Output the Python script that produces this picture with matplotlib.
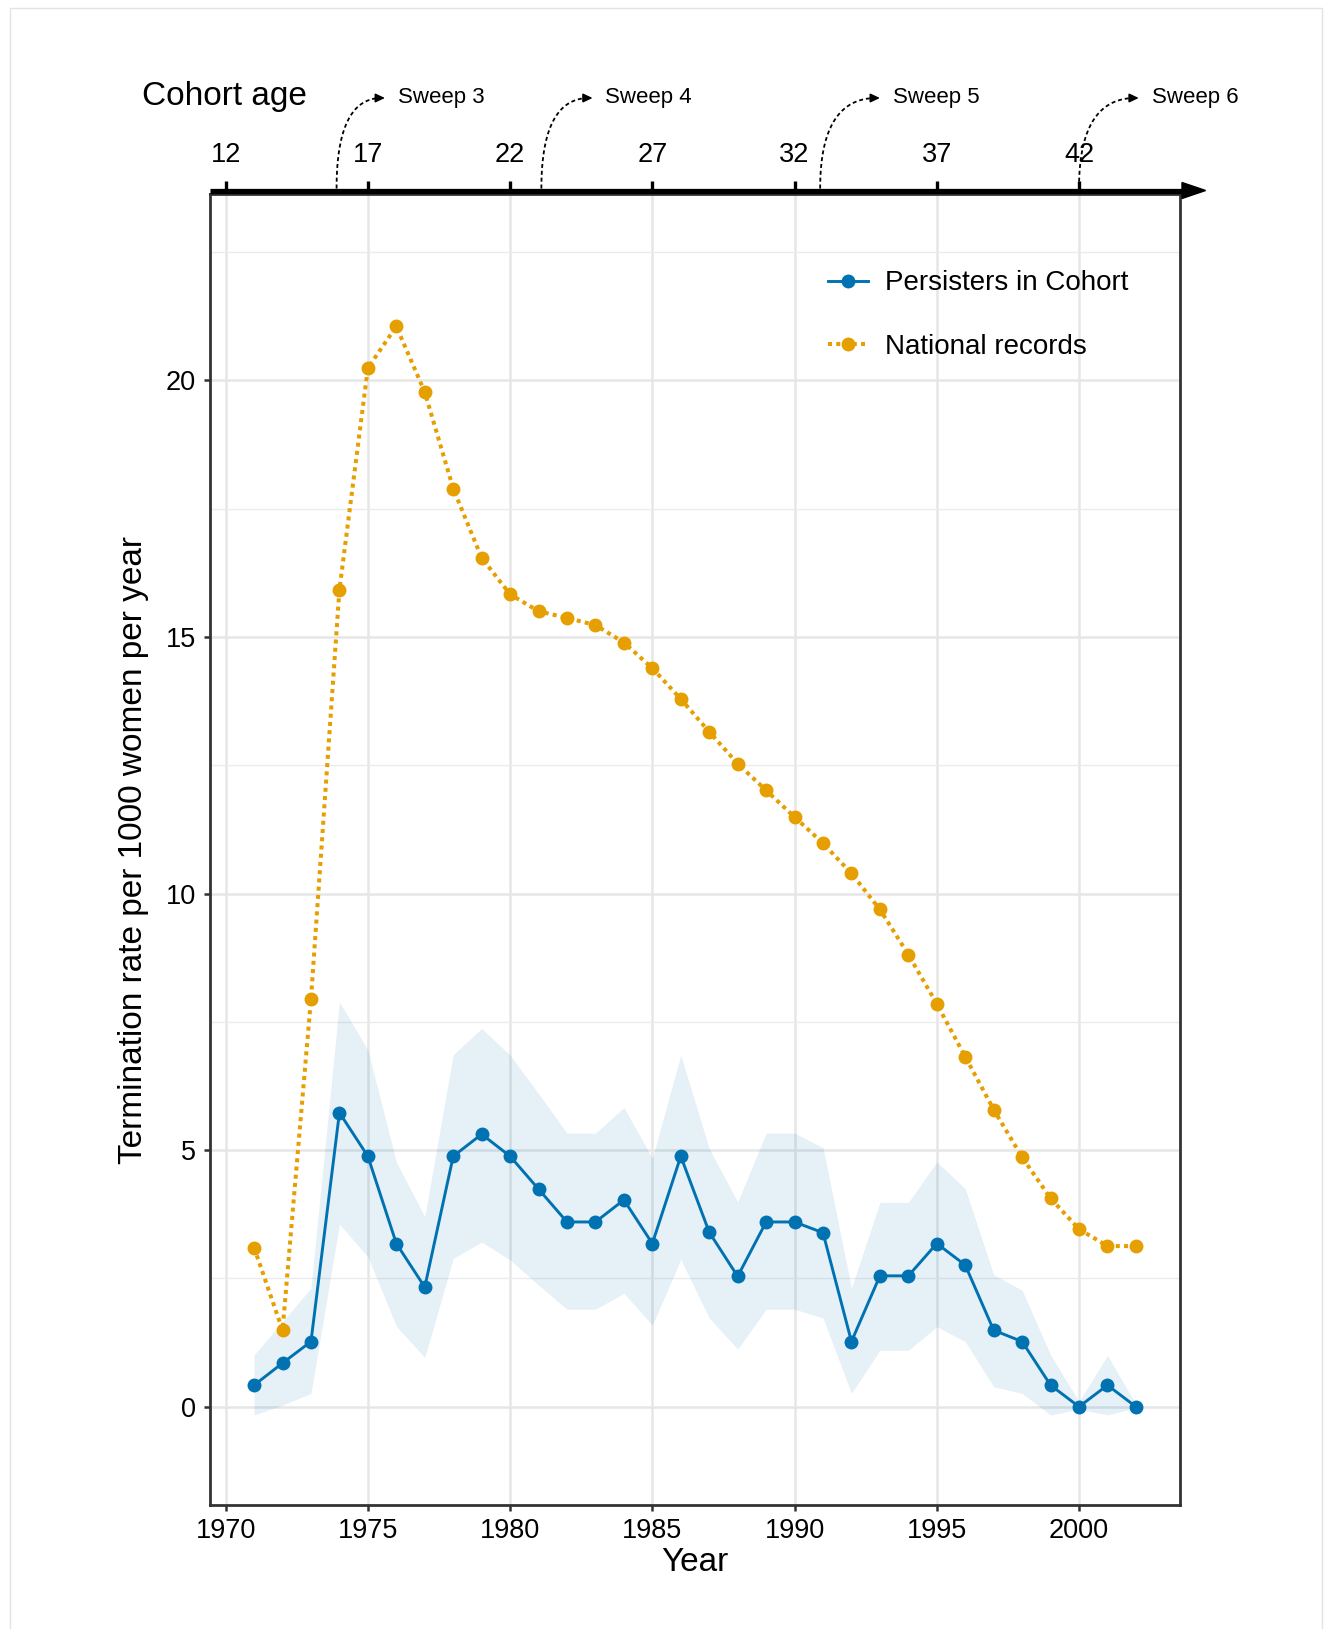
import numpy as np
import matplotlib.pyplot as plt
from matplotlib.patches import Polygon, Rectangle

plt.rcParams['font.family'] = ['Liberation Sans', 'DejaVu Sans']

# ---- data ----
years = list(range(1971, 2003))
persisters = [0.42, 0.85, 1.27, 5.73, 4.88, 3.18, 2.33, 4.88, 5.31, 4.88,
              4.24, 3.60, 3.60, 4.03, 3.18, 4.88, 3.40, 2.54, 3.60, 3.60,
              3.39, 1.27, 2.55, 2.55, 3.18, 2.76, 1.49, 1.27, 0.42, 0.00,
              0.42, 0.00]
persist_hi = [1.01, 1.66, 2.31, 7.89, 6.95, 4.77, 3.70, 6.86, 7.37, 6.85,
              6.10, 5.33, 5.33, 5.83, 4.84, 6.85, 5.03, 3.99, 5.33, 5.33,
              5.05, 2.31, 3.98, 3.98, 4.77, 4.25, 2.57, 2.27, 1.01, 0.10,
              1.00, 0.05]
persist_lo = [-0.16, 0.03, 0.26, 3.56, 2.92, 1.57, 0.96, 2.89, 3.21, 2.86,
              2.37, 1.90, 1.90, 2.21, 1.59, 2.87, 1.73, 1.12, 1.90, 1.90,
              1.73, 0.26, 1.10, 1.10, 1.56, 1.27, 0.39, 0.26, -0.16, -0.05,
              -0.16, -0.02]
national = [3.10, 1.49, 7.95, 15.92, 20.24, 21.05, 19.77, 17.89, 16.54, 15.83,
            15.50, 15.37, 15.23, 14.89, 14.39, 13.79, 13.15, 12.53, 12.01, 11.49,
            10.98, 10.39, 9.69, 8.81, 7.85, 6.82, 5.79, 4.86, 4.06, 3.46,
            3.13, 3.13]

birth_year = 1958
cohort_ages = [12, 17, 22, 27, 32, 37, 42]
sweep_labels = ["Sweep 3", "Sweep 4", "Sweep 5", "Sweep 6"]
sweep_start = [1973.9, 1981.1, 1990.9, 2000.0]
sweep_end = [1975.6, 1982.9, 1993.0, 2002.1]

BLUE = "#0072B2"
ORANGE = "#E69F00"
W, H = 1330, 1629

fig = plt.figure(figsize=(W / 100, H / 100), dpi=100)
fig.patch.set_facecolor("white")
# light frame round the whole picture
fig.patches.append(Rectangle((10 / W, -0.01), 1312 / W, 1 - 8 / H + 0.01,
                             transform=fig.transFigure, fill=False,
                             edgecolor="#e3e3e3", lw=1.0))

ax_l, ax_r, ax_t, ax_b = 210, 1180, 194, 1505
ax = fig.add_axes([ax_l / W, 1 - ax_b / H, (ax_r - ax_l) / W, (ax_b - ax_t) / H])

ax.fill_between(years, persist_lo, persist_hi, color=BLUE, alpha=0.1, lw=0,
                zorder=2)
ax.plot(years, national, color=ORANGE, lw=2.9, ls=(0, (1, 1.05)),
        dash_capstyle="butt", marker="o", ms=9, zorder=3,
        label="National records")
ax.plot(years, persisters, color=BLUE, lw=2.1, marker="o", ms=9, zorder=4,
        label="Persisters in Cohort")

ax.set_xlim(1969.45, 2003.55)
ax.set_ylim(-1.915, 23.63)
ax.set_xticks(range(1970, 2001, 5))
ax.set_yticks([0, 5, 10, 15, 20])
ax.set_yticks(np.arange(2.5, 23, 5), minor=True)
ax.grid(True, which="major", color="#e6e6e6", lw=1.8, zorder=0)
ax.grid(True, which="minor", axis="y", color="#ebebeb", lw=1.0, zorder=0)
ax.set_axisbelow(True)
ax.tick_params(which="major", length=4.3, width=1.8, color="#333333",
               labelsize=19.5, pad=5)
ax.tick_params(axis="y", pad=6)
ax.tick_params(which="minor", length=0)
for sp in ax.spines.values():
    sp.set_color("#333333")
    sp.set_linewidth(2.0)

ax.set_xlabel("Year", fontsize=24)
ax.xaxis.set_label_coords(0.5, (ax_b - 1547) / (ax_b - ax_t))
ax.set_ylabel("Termination rate per 1000 women per year", fontsize=24,
              va="center")
ax.yaxis.set_label_coords((134 - ax_l) / (ax_r - ax_l), 0.5)

handles, labels = ax.get_legend_handles_labels()
ax.legend(handles[::-1], labels[::-1], loc="center left",
          bbox_to_anchor=(0.637, 0.9075), frameon=False, fontsize=20,
          handlelength=1.45, handletextpad=0.6, labelspacing=1.36,
          borderpad=0, borderaxespad=0)

# ---- cohort-age axis drawn above the panel (y in pixels from the top) ----
top = fig.add_axes([ax_l / W, 1 - ax_t / H, (ax_r - ax_l) / W, ax_t / H])
top.set_xlim(ax.get_xlim())
top.set_ylim(ax_t, 0)
top.axis("off")

line_y = 190.5
top.plot([1969.45, 2003.7], [line_y, line_y], color="black", lw=3.8,
         solid_capstyle="butt", clip_on=False)
top.add_patch(Polygon([(2003.62, line_y - 8), (2003.62, line_y + 8),
                       (2004.45, line_y)], closed=True, color="black",
                      clip_on=False))
for age in cohort_ages:
    yr = birth_year + age
    top.plot([yr, yr], [181, line_y], color="black", lw=2.4,
             solid_capstyle="butt", clip_on=False)
    top.text(yr, 155, str(age), fontsize=19.5, ha="center", va="center")

fig.text(142 / W, 1 - 97 / H, "Cohort age", fontsize=24, ha="left",
         va="center")

arrow_y = 98
t = np.linspace(0, 1, 60)
for lab, x0, x1 in zip(sweep_labels, sweep_start, sweep_end):
    p0 = np.array([x0, line_y - 2])
    p1 = np.array([x1 - 0.12, arrow_y])
    c = np.array([x0, arrow_y])
    pts = ((1 - t) ** 2)[:, None] * p0 + (2 * t * (1 - t))[:, None] * c \
        + (t ** 2)[:, None] * p1
    top.plot(pts[:, 0], pts[:, 1], color="black", lw=1.3, ls=(0, (2.2, 1.6)),
             clip_on=False)
    top.annotate("", xy=(x1, arrow_y), xytext=(x1 - 0.2, arrow_y),
                 arrowprops=dict(arrowstyle="-|>,head_length=0.55,head_width=0.26",
                                 color="black", lw=1.2, shrinkA=0, shrinkB=0),
                 annotation_clip=False)
    top.text(x1 + 0.45, arrow_y - 1, lab, fontsize=16, ha="left", va="center")

fig.savefig("out.png", dpi=100, facecolor="white")
